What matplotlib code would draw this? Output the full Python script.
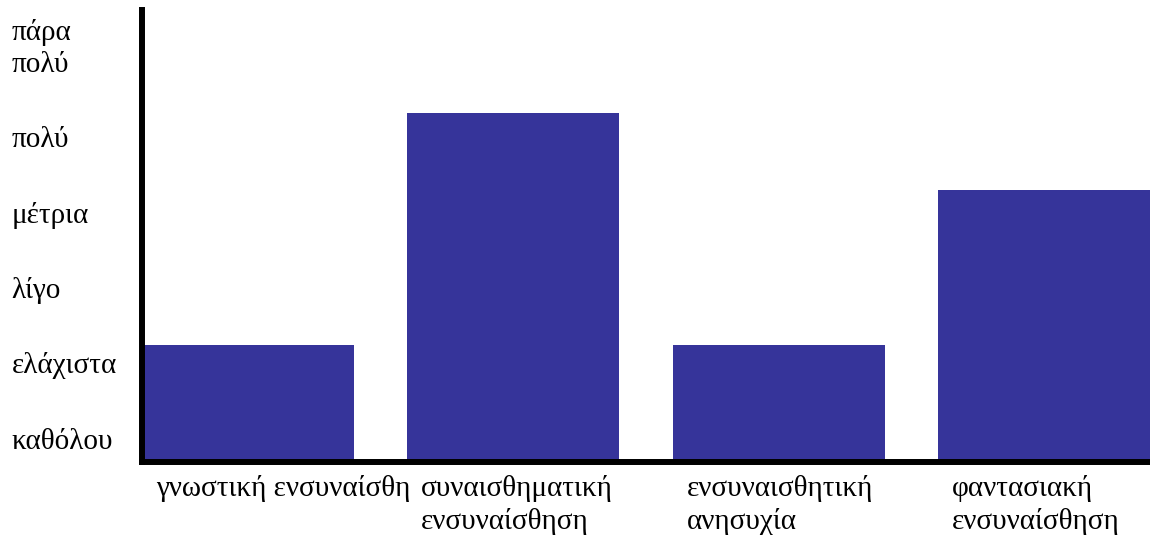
import numpy as np
import matplotlib.pyplot as plt
from matplotlib.transforms import offset_copy

plt.rcParams['font.family'] = ['Liberation Serif', 'DejaVu Serif']

categories = ['γνωστική ενσυναίσθη', 'συναισθηματική\nενσυναίσθηση',
              'ενσυναισθητική\nανησυχία', 'φαντασιακή\nενσυναίσθηση']
values = [1.56, 4.63, 1.56, 3.61]
levels = ['καθόλου', 'ελάχιστα', 'λίγο', 'μέτρια', 'πολύ', 'πάρα\nπολύ']

fig = plt.figure(figsize=(11.5, 5.36), dpi=100)
ax = fig.add_axes([0.1235, 0.138, 0.8765, 0.843])

x = np.arange(len(categories))
ax.bar(x, values, width=0.8, color='#36349a')

ax.set_xlim(-0.4, 3.4)
ax.set_ylim(0, 6)

for side in ('top', 'right'):
    ax.spines[side].set_visible(False)
for side in ('left', 'bottom'):
    ax.spines[side].set_linewidth(4.3)
    ax.spines[side].set_color('black')

# y labels: left aligned at the figure edge, sitting a bit above each level
ax.set_yticks(np.arange(len(levels)) + 0.1)
ax.set_yticklabels(levels, fontsize=21, ha='left', va='bottom', linespacing=1.3)
ax.tick_params(axis='y', length=0, pad=94)

# x labels: left aligned just inside each bar
ax.set_xticks([])
tr = offset_copy(ax.get_xaxis_transform(), fig=fig, x=10, y=-9, units='points')
for xi, lab in zip(x, categories):
    ax.text(xi - 0.4, 0, lab, transform=tr, ha='left', va='top',
            fontsize=21, linespacing=1.3)

fig.savefig('out.png', dpi=100)
